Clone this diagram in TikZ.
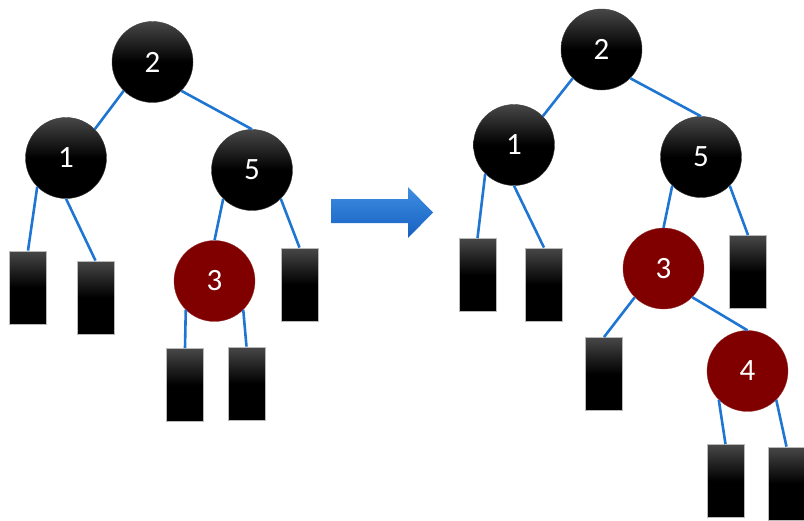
\documentclass[tikz,border=0pt]{standalone}
\usepackage{fontspec}
\setmainfont{Carlito}
\definecolor{edgeblue}{RGB}{30,118,210}
\definecolor{redn}{RGB}{128,0,0}
\definecolor{arrtop}{RGB}{62,142,226}
\definecolor{arrbot}{RGB}{22,96,192}
\begin{document}
\begin{tikzpicture}[x=1pt,y=-1pt,
  bnode/.style={circle,minimum size=81pt,inner sep=0pt,draw=gray!50!black,line width=0.4pt,
    top color=black!72,bottom color=black,middle color=black,text=white,font=\fontsize{31}{31}\selectfont},
  rnode/.style={circle,minimum size=81pt,inner sep=0pt,fill=redn,draw=redn!80!white,line width=0.3pt,
    text=white,font=\fontsize{31}{31}\selectfont},
  leaf/.style={rectangle,minimum width=37pt,minimum height=73pt,inner sep=0pt,draw=gray!55,line width=0.8pt,
    top color=black!72,bottom color=black,middle color=black},
  edge/.style={draw=edgeblue,line width=2.6pt}]
\useasboundingbox (0,0) rectangle (804,520);
% left tree
\node[bnode] (a2) at (152.5,62) {2};
\node[bnode] (a1) at (66,158) {1};
\node[bnode] (a5) at (252,170) {5};
\node[rnode] (a3) at (214.5,281) {3};
\node[leaf] (aL1) at (28,287.5) {};
\node[leaf] (aL2) at (95.5,297.5) {};
\node[leaf] (aL5) at (299.5,284.5) {};
\node[leaf] (aL3) at (185,385) {};
\node[leaf] (aR3) at (246.5,383.5) {};
\draw[edge] (a2.225) -- (a1.45);
\draw[edge] (a2.315) -- (a5.90);
\draw[edge] (a1.225) -- (aL1.north);
\draw[edge] (a1.270) -- (aL2.north);
\draw[edge] (a5.225) -- (a3.90);
\draw[edge] (a5.315) -- (aL5.north);
\draw[edge] (a3.225) -- (aL3.north);
\draw[edge] (a3.315) -- (aR3.north);
% arrow
\path[top color=arrtop,bottom color=arrbot] (331,199) -- (408,199) -- (408,187) -- (433,212.5) -- (408,238) -- (408,223) -- (331,223) -- cycle;
% right tree
\node[bnode] (b2) at (601.5,49.5) {2};
\node[bnode] (b1) at (514,145) {1};
\node[bnode] (b5) at (701,157) {5};
\node[rnode] (b3) at (663.5,268.5) {3};
\node[rnode] (b4) at (747.5,371) {4};
\node[leaf] (bL1) at (477.5,275) {};
\node[leaf] (bR1) at (544,284.5) {};
\node[leaf] (bR5) at (748,272) {};
\node[leaf] (bL3) at (604,374) {};
\node[leaf] (bL4) at (725.5,481) {};
\node[leaf] (bR4) at (786.5,483.5) {};
\draw[edge] (b2.225) -- (b1.45);
\draw[edge] (b2.315) -- (b5.90);
\draw[edge] (b1.225) -- (bL1.north);
\draw[edge] (b1.270) -- (bR1.north);
\draw[edge] (b5.225) -- (b3.90);
\draw[edge] (b5.315) -- (bR5.north);
\draw[edge] (b3.225) -- (bL3.north);
\draw[edge] (b3.315) -- (b4.90);
\draw[edge] (b4.225) -- (bL4.north);
\draw[edge] (b4.315) -- (bR4.north);
\end{tikzpicture}
\end{document}
